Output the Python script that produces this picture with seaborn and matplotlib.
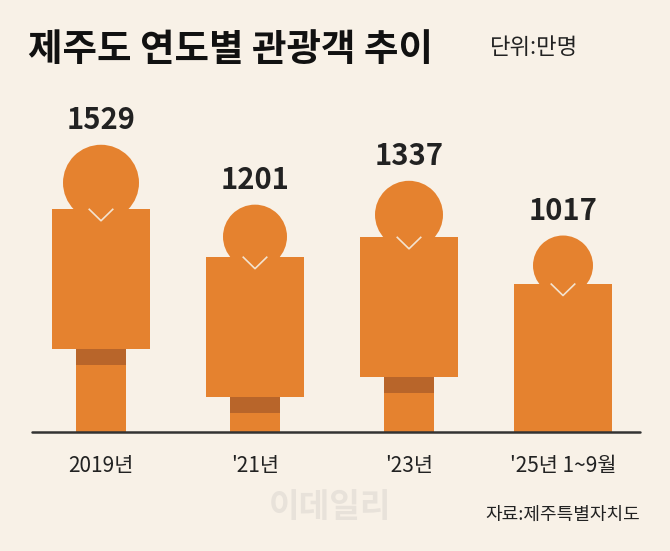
import matplotlib
matplotlib.use("Agg")
import matplotlib.pyplot as plt
import seaborn as sns
import pandas as pd

years = ["2019년", "'21년", "'23년", "'25년 1~9월"]
visitors = [1529, 1201, 1337, 1017]
head_r = [38, 32, 34, 30]  # px

sns.set_theme(style="white")
plt.rcParams['font.family'] = ['Noto Sans CJK KR', 'DejaVu Sans']

BG = "#F8F1E7"
ORANGE = "#E5822F"
BELT = "#B8652A"

k = 0.146          # px per unit
base_px = 432
sp = 154
x0 = 101

fig = plt.figure(figsize=(6.7, 5.51), dpi=100, facecolor=BG)
ax = fig.add_axes([0, 0, 1, 1], facecolor=BG)

df = pd.DataFrame({"year": years, "visitors": visitors})
# legs: narrow bars from baseline to value
sns.barplot(data=df, x="year", y="visitors", color=ORANGE, width=0.33,
            saturation=1, linewidth=0, edgecolor="none", ax=ax)

torso = 140 / k
belt = 16 / k
for i, v in enumerate(visitors):
    bottom = v - torso
    if bottom < belt:
        bottom = 0
    ax.bar(i, v - bottom, bottom=bottom, width=0.63, color=ORANGE,
           linewidth=0, edgecolor="none", zorder=3)
    if bottom > 0:
        ax.bar(i, belt, bottom=bottom - belt, width=0.33, color=BELT,
               linewidth=0, edgecolor="none", zorder=3)
    r = head_r[i]
    cy = v + (r - 12) / k
    ax.scatter(i, cy, s=(2 * r * 0.72) ** 2, color=ORANGE, zorder=4,
               edgecolor="none")
    # V collar
    ax.plot([i - 0.08, i, i + 0.08], [v, v - 12 / k, v], color="#F3E3D0",
            lw=1.2, zorder=5, solid_capstyle="butt")
    ax.text(i, cy + (r + 10) / k, f"{v}", ha="center", va="bottom",
            fontsize=21, fontweight="bold", color="#222222", zorder=6)

ax.set_xlim(-x0 / sp, (670 - x0) / sp)
ax.set_ylim(-(551 - base_px) / k, base_px / k)
ax.axhline(0, xmin=32 / 670, xmax=640 / 670, color="#333333", lw=1.8, zorder=6)
for i, y in enumerate(years):
    ax.text(i, -34 / k, y, ha="center", va="center", fontsize=15, color="#222222")
ax.axis("off")

fig.text(28 / 670, 1 - 50 / 551, "제주도 연도별 관광객 추이", fontsize=27,
         fontweight="bold", va="center", ha="left", color="#111111")
fig.text(490 / 670, 1 - 48 / 551, "단위:만명", fontsize=16, va="center",
         ha="left", color="#222222")
fig.text(330 / 670, 1 - 508 / 551, "이데일리", fontsize=24, fontweight="bold",
         va="center", ha="center", color="#E8E2DA")
fig.text(640 / 670, 1 - 515 / 551, "자료:제주특별자치도", fontsize=13,
         va="center", ha="right", color="#222222")

fig.savefig("out.png", dpi=100, facecolor=BG)
